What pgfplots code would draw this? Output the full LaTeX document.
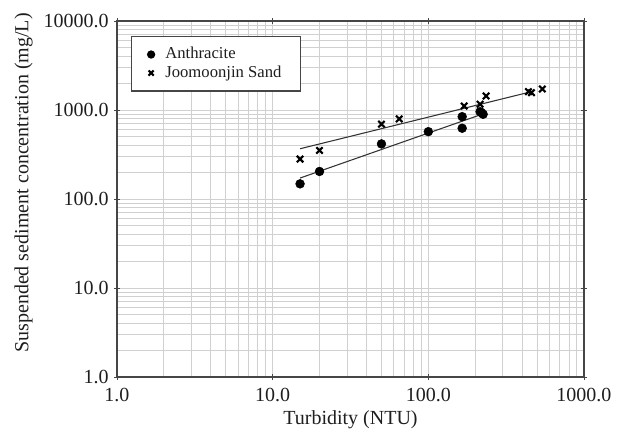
\documentclass[border=0pt]{standalone}
\usepackage{pgfplots}
\pgfplotsset{compat=1.18}
\usepackage{fontspec}
\setmainfont{Liberation Serif}
\definecolor{gridc}{RGB}{208,208,208}
\definecolor{axc}{RGB}{70,70,70}
\definecolor{txtc}{RGB}{30,30,30}
\begin{document}
\fontsize{15pt}{17pt}\selectfont
\begin{tikzpicture}
\begin{axis}[
  at={(0,0)}, anchor=south west,
  scale only axis,
  width=350.25pt, height=267pt,
  xmode=log, ymode=log,
  xmin=1, xmax=1000, ymin=1, ymax=10000,
  xtick={1,10,100,1000}, xticklabels={1.0,10.0,100.0,1000.0},
  ytick={1,10,100,1000,10000}, yticklabels={1.0,10.0,100.0,1000.0,10000.0},
  grid=both,
  major grid style={gridc, line width=0.6pt},
  minor grid style={gridc, line width=0.6pt},
  axis line style={axc, line width=0.9pt},
  tick align=center,
  major tick length=4pt, minor tick length=0pt,
  tick style={axc, line width=0.7pt},
  ticklabel style={font=\fontsize{15pt}{17pt}\selectfont, text=txtc},
  xticklabel style={yshift=-1pt},
  yticklabel style={xshift=1pt},
  /pgf/number format/assume math mode=true,
  xlabel={Turbidity (NTU)},
  ylabel={Suspended sediment concentration (mg/L)},
  label style={font=\fontsize{15pt}{17pt}\selectfont, text=txtc},
  xlabel style={yshift=3pt},
  ylabel style={yshift=-2pt, xshift=12pt},
  legend style={at={(0.03,0.958)}, anchor=north west, draw=axc, line width=0.9pt,
    font=\fontsize{12.5pt}{14pt}\selectfont, inner xsep=12pt, inner ysep=6pt,
    row sep=-1pt, text=txtc,
    /tikz/every odd column/.append style={column sep=6pt}},
  legend image post style={scale=0.8},
  legend cell align=left,
  clip=false,
]
% Trend lines
\addplot[black!80, line width=0.8pt, forget plot] coordinates {(15,172) (230,918)};
\addplot[black!80, line width=0.8pt, forget plot] coordinates {(15,367) (450,1592)};
% Data
\addplot[only marks, mark=*, mark size=3.3pt, black, mark options={fill=black}] coordinates {
 (15,148) (20,204) (50,416) (100,571) (165,842) (165,624) (215,957) (225,896) (220,930)
};
\addlegendentry{Anthracite}
\addplot[only marks, mark=x, mark size=3.4pt, black, mark options={line width=1.6pt}] coordinates {
 (15,281) (20,351) (50,693) (65,794) (170,1110) (215,1162) (235,1439) (440,1607) (460,1566) (540,1722)
};
\addlegendentry{Joomoonjin Sand}
\end{axis}
\path[use as bounding box] (-87.75pt,-45pt) rectangle (394.5pt,282.75pt);
\end{tikzpicture}
\end{document}
